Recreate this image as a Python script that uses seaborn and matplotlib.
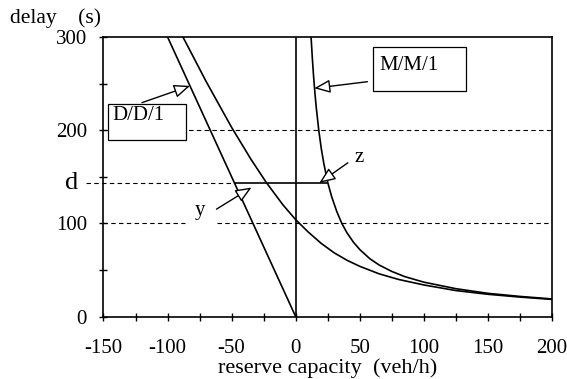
import matplotlib
matplotlib.use("Agg")
import matplotlib.pyplot as plt
import seaborn as sns
import pandas as pd
from matplotlib.patches import Rectangle

# ---- data ----
dd1_rc = [-100, 0]
dd1_delay = [300, 0]

td_rc = [-88, -70, -50, -35, -23, -10, 0, 10, 20, 30, 40, 50, 65, 80, 100, 125, 150, 175, 200]
td_delay = [300, 252.5, 203, 169, 144, 120, 104, 90.5, 78.5, 68.5, 60.5, 54, 46, 40, 34, 28, 24, 21, 18.5]

mm1_rc = [12, 13, 14, 15, 16, 18, 20, 22, 25, 28, 32, 36, 40, 45, 50, 58, 65, 75, 85, 100, 125, 150, 175, 200]
mm1_delay = [300, 277, 257, 240, 225, 200, 180, 164, 144, 129, 113, 100, 90, 80, 72, 62, 55.5, 48.5, 43, 37, 30, 25, 21.7, 19]

d_level = 143
x_ticks = [-150, -100, -50, 0, 50, 100, 150, 200]
y_ticks = [0, 100, 200, 300]
y_tick_labels = ["0", "100", "200", "300"]

sns.set_theme(style="white")
plt.rcParams['font.family'] = ['Liberation Serif', 'DejaVu Serif']

fig = plt.figure(figsize=(5.67, 3.79), dpi=100)
ax = fig.add_axes([0.1825, 0.1645, 0.791, 0.738])

frames = []
for name, xs, ys in [("dd1", dd1_rc, dd1_delay), ("td", td_rc, td_delay), ("mm1", mm1_rc, mm1_delay)]:
    frames.append(pd.DataFrame({"rc": xs, "delay": ys, "model": name}))
df = pd.concat(frames, ignore_index=True)

sns.lineplot(data=df, x="rc", y="delay", units="model", estimator=None,
             color="black", lw=1.2, sort=False, ax=ax, legend=False, zorder=3)

ax.set_xlim(-150, 200)
ax.set_ylim(0, 300)

dash = (0, (4, 3))
# reference lines
ax.plot([-150, 200], [200, 200], color="black", lw=0.8, ls=dash, zorder=1)
ax.plot([-150, -86.5], [100, 100], color="black", lw=0.8, ls=dash, zorder=1)
ax.plot([-61.5, 200], [100, 100], color="black", lw=0.8, ls=dash, zorder=1)
ax.plot([-164, -d_level / 3], [d_level, d_level], color="black", lw=0.8, ls=dash,
        clip_on=False, zorder=1)
ax.plot([-d_level / 3, 24.5], [d_level, d_level], color="black", lw=1.2, zorder=3)
ax.plot([0, 0], [0, 300], color="black", lw=1.2, zorder=3)

for s in ax.spines.values():
    s.set_color("black")
    s.set_linewidth(1.2)

ax.set_xticks(x_ticks)
ax.set_xticklabels([str(v) for v in x_ticks])
ax.set_xticks([-125, -75, -25, 25, 75, 125, 175], minor=True)
ax.set_yticks(y_ticks)
ax.set_yticklabels(y_tick_labels)
ax.set_yticks([50, 150, 250], minor=True)
ax.tick_params(which="both", direction="inout", length=6, width=1, color="black",
               bottom=True, left=True, top=False, right=False)
ax.tick_params(axis="x", which="major", labelsize=15, pad=13, labelcolor="black")
ax.tick_params(axis="y", which="major", labelsize=15, pad=9, labelcolor="black")

ax.text(-169.5, d_level, "d", fontsize=19, ha="right", va="center", color="black")

ax.set_xlabel("reserve capacity  (veh/h)", fontsize=16, color="black", labelpad=0)
ax.set_ylabel("")
fig.text(0.017, 0.952, "delay    (s)", fontsize=15.5, ha="left", va="center", color="black")

# boxes
ax.add_patch(Rectangle((-146.4, 189), 60.7, 39.4, fc="white", ec="black", lw=0.9, zorder=4))
ax.text(-143.3, 226, "D/D/1", fontsize=15, ha="left", va="top", zorder=5, color="black")
ax.add_patch(Rectangle((60.6, 242), 72.4, 47, fc="white", ec="black", lw=0.9, zorder=4))
ax.text(65.4, 280, "M/M/1", fontsize=15, ha="left", va="top", zorder=5, color="black")

arrow = dict(arrowstyle="-|>,head_length=0.65,head_width=0.27", fc="white", ec="black",
             lw=1.0, mutation_scale=15, shrinkA=0, shrinkB=0)
ax.annotate("", xy=(-82.5, 247.5), xytext=(-120, 229.5), arrowprops=arrow, zorder=6)
ax.annotate("", xy=(14.5, 245), xytext=(56, 252), arrowprops=arrow, zorder=6)
ax.annotate("", xy=(18.5, 143.5), xytext=(40.7, 165), arrowprops=arrow, zorder=6)
ax.annotate("", xy=(-34.5, 138.5), xytext=(-61.8, 115.3), arrowprops=arrow, zorder=6)
ax.text(49.8, 171, "z", fontsize=15, ha="center", va="center", color="black")
ax.text(-74.8, 113.5, "y", fontsize=15, ha="center", va="center", color="black")

fig.savefig("out.png", dpi=100)
